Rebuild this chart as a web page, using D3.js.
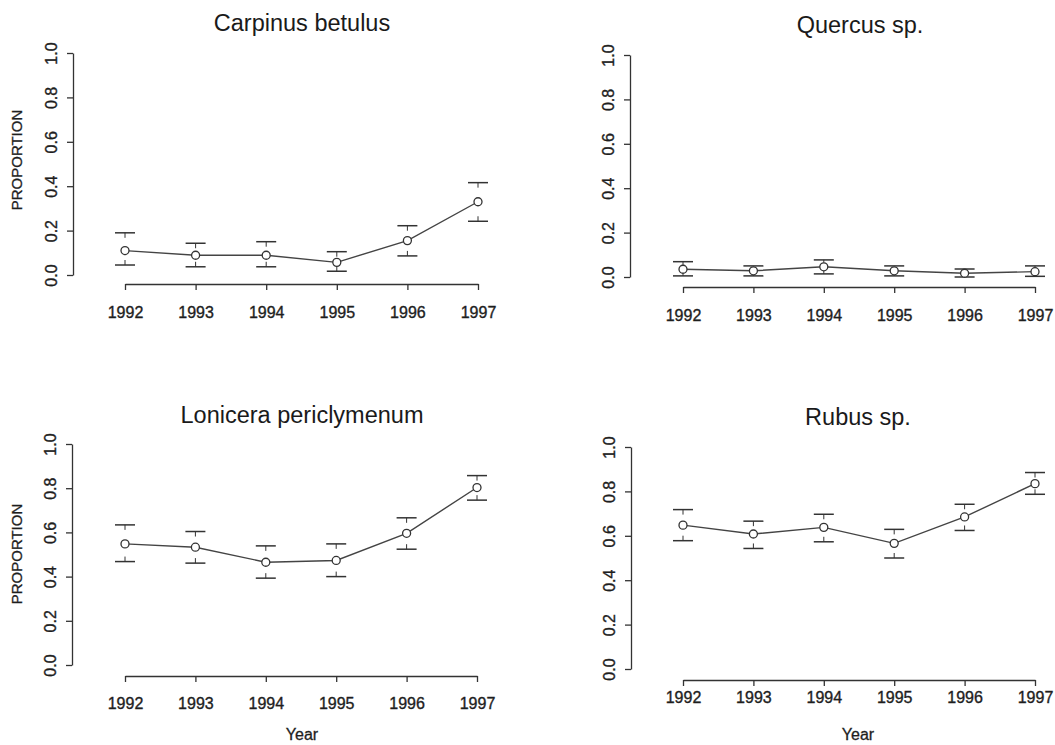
<!DOCTYPE html>
<html>
<head>
<meta charset="utf-8">
<script src="https://cdn.jsdelivr.net/npm/d3@7"></script>
<style>
  body { margin: 0; background: #fff; }
  svg { display: block; font-family: "Liberation Sans", Arial, sans-serif; }
  .axis path, .axis line { stroke: #333; stroke-width: 1.3; }
  .axis text { fill: #1e1e1e; font-size: 16px; stroke: #1e1e1e; stroke-width: 0.35; }
</style>
</head>
<body>
<div id="chart"></div>
<script>
// years and y ticks
const years = [1992, 1993, 1994, 1995, 1996, 1997];
const yTicks = [0, 0.2, 0.4, 0.6, 0.8, 1.0];

// proportion estimates with lower / upper limits
const carpinusMean  = [0.110, 0.089, 0.089, 0.057, 0.155, 0.330];
const carpinusLower = [0.045, 0.037, 0.037, 0.017, 0.086, 0.242];
const carpinusUpper = [0.190, 0.143, 0.150, 0.105, 0.222, 0.416];

const quercusMean  = [0.035, 0.028, 0.046, 0.028, 0.017, 0.024];
const quercusLower = [0.005, 0.005, 0.014, 0.005, 0.000, 0.003];
const quercusUpper = [0.069, 0.050, 0.077, 0.050, 0.036, 0.050];

const loniceraMean  = [0.548, 0.533, 0.465, 0.473, 0.596, 0.803];
const loniceraLower = [0.468, 0.461, 0.393, 0.400, 0.524, 0.746];
const loniceraUpper = [0.634, 0.604, 0.539, 0.548, 0.666, 0.857];

const rubusMean  = [0.648, 0.608, 0.638, 0.566, 0.685, 0.835];
const rubusLower = [0.578, 0.543, 0.573, 0.500, 0.624, 0.787];
const rubusUpper = [0.718, 0.666, 0.697, 0.629, 0.742, 0.885];

const svg = d3.select('#chart').append('svg')
  .attr('width', 1055)
  .attr('height', 745);

class ProportionPlot {
  constructor(_config) {
    this.config = _config;
    this.data = years.map((yr, i) => ({
      year: yr,
      mean: _config.mean[i],
      lower: _config.lower[i],
      upper: _config.upper[i]
    }));
    this.initVis();
  }

  initVis() {
    let vis = this;
    const c = vis.config;

    vis.xScale = d3.scaleLinear().domain([1992, 1997]).range(c.xRange);
    vis.yScale = d3.scaleLinear().domain([0, 1]).range(c.yRange);

    vis.g = svg.append('g');

    // y axis, R style: labels rotated, parallel to the axis
    const yAxisG = vis.g.append('g')
      .attr('class', 'axis')
      .attr('transform', `translate(${c.yAxisX},0)`)
      .call(d3.axisLeft(vis.yScale).tickValues(yTicks)
        .tickFormat(d3.format('.1f')).tickSize(6).tickSizeOuter(0));
    yAxisG.selectAll('text')
      .attr('x', 0).attr('y', -16).attr('dy', '0')
      .attr('text-anchor', 'middle')
      .attr('transform', 'rotate(-90)');

    // x axis, detached below the plot
    const xAxisG = vis.g.append('g')
      .attr('class', 'axis')
      .attr('transform', `translate(0,${c.xAxisY})`)
      .call(d3.axisBottom(vis.xScale).tickValues(years)
        .tickFormat(d3.format('d')).tickSize(6).tickSizeOuter(0));
    xAxisG.selectAll('text')
      .attr('y', c.tickLabelY - c.xAxisY).attr('dy', '0');
    xAxisG.select('.domain').attr('stroke-width', 1.6);

    // title
    vis.g.append('text')
      .attr('x', c.titleX).attr('y', c.titleY)
      .attr('text-anchor', 'middle')
      .attr('font-size', 23.5)
      .attr('fill', '#1a1a1a')
      .text(c.title);

    if (c.showYLabel) {
      vis.g.append('text')
        .attr('transform', `translate(22,${c.yLabelY}) rotate(-90)`)
        .attr('text-anchor', 'middle')
        .attr('font-size', 15)
        .attr('fill', '#1e1e1e')
        .attr('stroke', '#1e1e1e')
        .attr('stroke-width', 0.3)
        .text('PROPORTION');
    }
    if (c.showXLabel) {
      vis.g.append('text')
        .attr('x', c.titleX).attr('y', c.xLabelY)
        .attr('text-anchor', 'middle')
        .attr('font-size', 16)
        .attr('fill', '#1e1e1e')
        .attr('stroke', '#1e1e1e')
        .attr('stroke-width', 0.3)
        .text('Year');
    }

    vis.renderVis();
  }

  renderVis() {
    let vis = this;
    const capW = 10, stub = 5, r = 4;

    // error bar caps with short stems toward the point
    const bars = vis.g.selectAll('.err')
      .data(vis.data)
      .join('g')
      .attr('class', 'err')
      .attr('stroke', '#333')
      .attr('stroke-width', 1.5);

    ['upper', 'lower'].forEach(key => {
      bars.append('line')
        .attr('x1', d => vis.xScale(d.year) - capW)
        .attr('x2', d => vis.xScale(d.year) + capW)
        .attr('y1', d => vis.yScale(d[key]))
        .attr('y2', d => vis.yScale(d[key]));
      bars.append('line')
        .attr('stroke-width', 1)
        .attr('x1', d => vis.xScale(d.year))
        .attr('x2', d => vis.xScale(d.year))
        .attr('y1', d => vis.yScale(d[key]))
        .attr('y2', d => {
          const yc = vis.yScale(d[key]), ym = vis.yScale(d.mean);
          const len = Math.max(0, Math.min(stub, Math.abs(ym - yc) - r));
          return yc + (ym > yc ? len : -len);
        });
    });

    const line = d3.line()
      .x(d => vis.xScale(d.year))
      .y(d => vis.yScale(d.mean));

    vis.g.append('path')
      .datum(vis.data)
      .attr('d', line)
      .attr('fill', 'none')
      .attr('stroke', '#444')
      .attr('stroke-width', 1.4);

    vis.g.selectAll('.pt')
      .data(vis.data)
      .join('circle')
      .attr('class', 'pt')
      .attr('cx', d => vis.xScale(d.year))
      .attr('cy', d => vis.yScale(d.mean))
      .attr('r', r)
      .attr('fill', '#fff')
      .attr('stroke', '#333')
      .attr('stroke-width', 1.3);
  }
}

new ProportionPlot({
  title: 'Carpinus betulus', mean: carpinusMean, lower: carpinusLower, upper: carpinusUpper,
  xRange: [125, 478], yRange: [275, 53], yAxisX: 73, xAxisY: 284,
  tickLabelY: 318, titleX: 302, titleY: 31, showYLabel: true, yLabelY: 160
});
new ProportionPlot({
  title: 'Quercus sp.', mean: quercusMean, lower: quercusLower, upper: quercusUpper,
  xRange: [683, 1035], yRange: [277, 55], yAxisX: 630, xAxisY: 287,
  tickLabelY: 321, titleX: 860, titleY: 33
});
new ProportionPlot({
  title: 'Lonicera periclymenum', mean: loniceraMean, lower: loniceraLower, upper: loniceraUpper,
  xRange: [125, 477], yRange: [665, 444], yAxisX: 72, xAxisY: 676,
  tickLabelY: 709, titleX: 302, titleY: 423, showYLabel: true, yLabelY: 554,
  showXLabel: true, xLabelY: 740
});
new ProportionPlot({
  title: 'Rubus sp.', mean: rubusMean, lower: rubusLower, upper: rubusUpper,
  xRange: [683, 1035], yRange: [669, 447], yAxisX: 631, xAxisY: 680,
  tickLabelY: 703, titleX: 858, titleY: 425,
  showXLabel: true, xLabelY: 740
});
</script>
</body>
</html>
